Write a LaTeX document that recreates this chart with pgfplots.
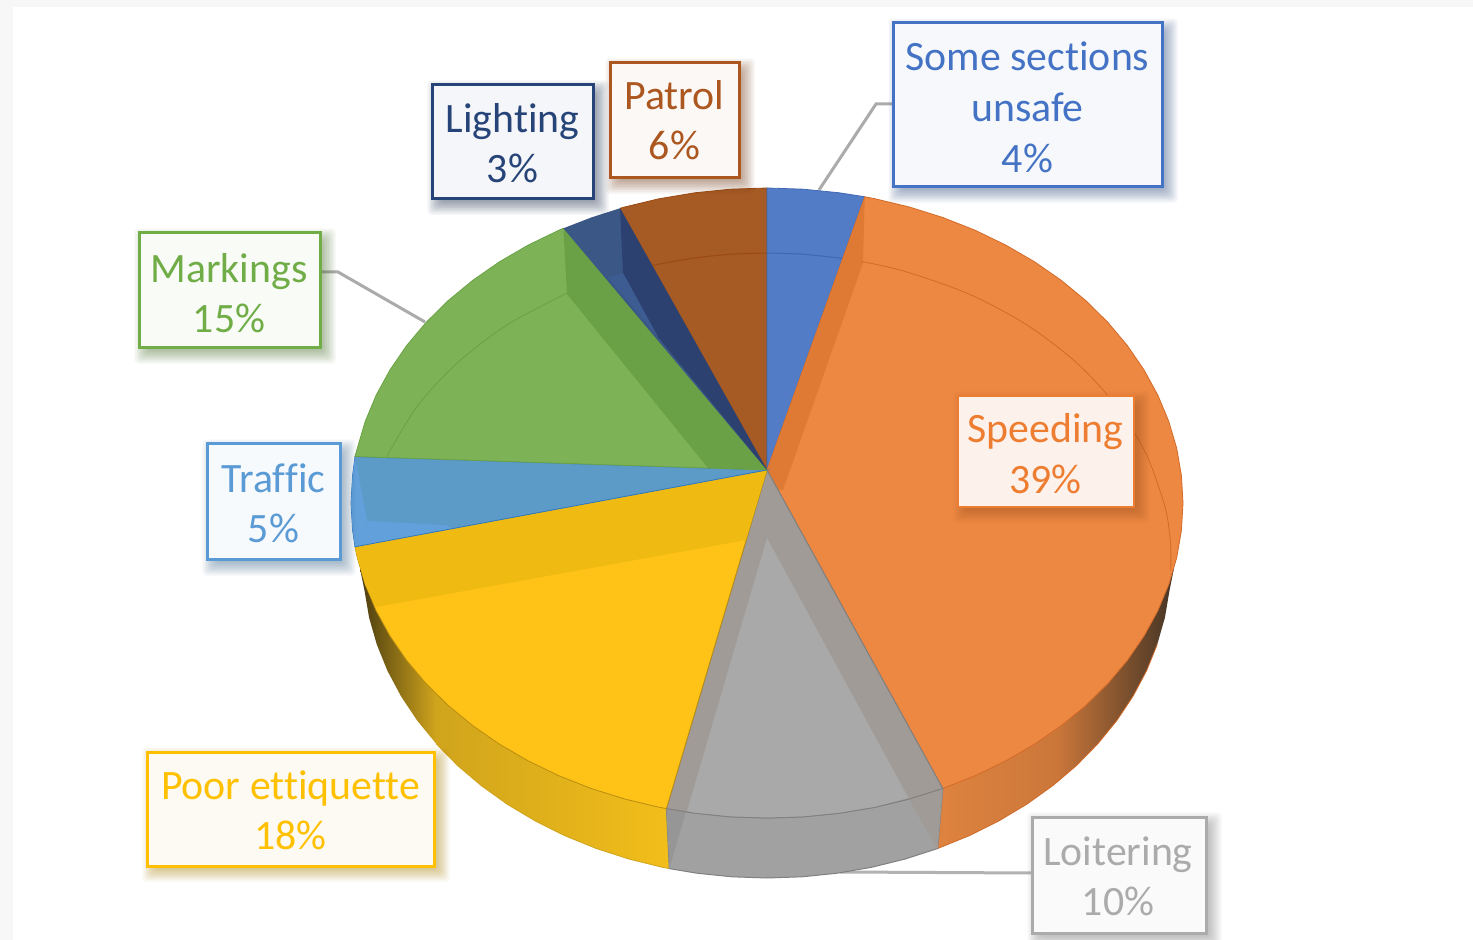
\documentclass[border=0pt]{standalone}
\usepackage{fontspec}
\setmainfont[Ligatures={NoCommon,NoContextual}]{Carlito}
\usepackage{pgfplots}
\pgfplotsset{compat=1.18}

\definecolor{cblue}{HTML}{4472C4}
\definecolor{corange}{HTML}{ED7D31}
\definecolor{cgray}{HTML}{ABABAB}
\definecolor{cyellow}{HTML}{FFC000}
\definecolor{ctraffic}{HTML}{5B9BD5}
\definecolor{cgreen}{HTML}{70AD47}
\definecolor{clight}{HTML}{264478}
\definecolor{cpatrol}{HTML}{AC5620}
% faces and bands
\definecolor{wallA}{HTML}{DE833F}
\definecolor{wallB}{HTML}{CB773A}
\definecolor{wallM}{HTML}{B06A35}
\definecolor{wallC}{HTML}{453525}
\definecolor{wallD}{HTML}{F2BE1A}
\definecolor{wallE}{HTML}{D0A41C}
\definecolor{wallM2}{HTML}{A08218}
\definecolor{wallF}{HTML}{4A3C10}
\definecolor{gband}{HTML}{A09B96}
\definecolor{gtop}{HTML}{A9A9A9}
\definecolor{patrol}{HTML}{A65A24}
\definecolor{patrolE}{HTML}{9A4A12}
\definecolor{blue1}{HTML}{527CC5}
\definecolor{blueE}{HTML}{4068B4}
\definecolor{orange1}{HTML}{ED8843}
\definecolor{orangeE}{HTML}{D26A28}
\definecolor{oband}{HTML}{DF7A35}
\definecolor{yellow1}{HTML}{FFC318}
\definecolor{yellowE}{HTML}{B98C10}
\definecolor{yband}{HTML}{EFBA12}
\definecolor{traffic}{HTML}{5C9AC8}
\definecolor{trafficE}{HTML}{2E78C0}
\definecolor{tlight}{HTML}{62A0DC}
\definecolor{green1}{HTML}{7DB356}
\definecolor{greenE}{HTML}{69A244}
\definecolor{grband}{HTML}{6AA146}
\definecolor{light1}{HTML}{3A5786}
\definecolor{lband}{HTML}{2C4170}
\definecolor{llow}{HTML}{3C5C92}
% label fills
\definecolor{bf}{HTML}{F6F8FB}
\definecolor{pf}{HTML}{FBF8F5}
\definecolor{lf}{HTML}{F5F6F9}
\definecolor{mf}{HTML}{F8FBF6}
\definecolor{tf}{HTML}{F7FAFD}
\definecolor{yf}{HTML}{FCFAF3}
\definecolor{gf}{HTML}{FAFAFA}
\definecolor{sf}{HTML}{FDF1EB}

\tikzset{
  labtext/.style={text=#1, inner sep=0pt, align=center, font=\fontsize{20.9}{25.2}\selectfont},
}
% one layer of a soft shadow: x1,y1,x2,y2,colour,spread
\newcommand\shl[6]{\fill[#5, opacity=0.06, rounded corners=2pt]
  ([xshift=2.8pt-#6pt,yshift=-2.8pt+#6pt]axis cs:#1,#2) rectangle ([xshift=2.8pt+#6pt,yshift=-2.8pt-#6pt]axis cs:#3,#4);}
% box with shadow: x1,y1,x2,y2,colour,fill,line width
\newcommand\labbox[7]{%
  \shl{#1}{#2}{#3}{#4}{#5!65!black}{5}\shl{#1}{#2}{#3}{#4}{#5!65!black}{4}\shl{#1}{#2}{#3}{#4}{#5!65!black}{3.2}%
  \shl{#1}{#2}{#3}{#4}{#5!65!black}{2.4}\shl{#1}{#2}{#3}{#4}{#5!65!black}{1.6}%
  \shl{#1}{#2}{#3}{#4}{#5!65!black}{0.8}\shl{#1}{#2}{#3}{#4}{#5!65!black}{0}%
  \shl{#1}{#2}{#3}{#4}{#5!65!black}{-0.8}\shl{#1}{#2}{#3}{#4}{#5!65!black}{-1.6}%
  \filldraw[draw=#5, fill=#6, line width=#7] (axis cs:#1,#2) rectangle (axis cs:#3,#4);}

\begin{document}
\begin{tikzpicture}
\path[use as bounding box] (0,0) rectangle (736.5pt,470pt);
\clip (0,0) rectangle (736.5pt,470pt);
\begin{axis}[
    at={(0,0)}, anchor=south west,
    scale only axis, width=736.5pt, height=470pt,
    xmin=0, xmax=1473, ymin=0, ymax=940,
    y dir=reverse,
    hide axis,
    no markers,
]
% page background
\addplot[draw=none, fill=black!3] coordinates {(0,0) (1473,0) (1473,940) (0,940)} --cycle;
\addplot[draw=none, fill=white] coordinates {(13,7) (1473,7) (1473,940) (13,940)} --cycle;

% leader lines
\addplot[color=black!33, line width=1.5pt] coordinates {(893,104) (876,104) (819,190)};
\addplot[color=black!33, line width=1.5pt] coordinates {(320,272) (338,272) (425,322)};
\addplot[color=black!30, line width=1.5pt] coordinates {(1032,873) (840,872)};

% side wall, orange
\addplot[draw=none, left color=wallA, right color=wallB] coordinates {
 (942.8,788.5) (937.7,848.5) (969,835.8) (998.7,821) (1026.7,804.3) (1052.7,785.7) (1057.5,782) (1057.5,715)
} --cycle;
\addplot[draw=none, left color=wallB, middle color=wallM, right color=wallC] coordinates {
 (1057,715) (1057,782.4) (1076.5,765.5) (1097.9,743.7) (1116.9,720.5) (1133.1,696.1)
 (1146.6,670.7) (1157.2,644.5) (1164.9,617.7) (1169.5,590.5) (1174,568) (1100,600)
} --cycle;
\addplot[color=orangeE, line width=0.4pt] coordinates {
 (937.7,848.5) (969,835.8) (998.7,821) (1026.7,804.3) (1052.7,785.7) (1076.5,765.5) (1097.9,743.7)
 (1116.9,720.5) (1133.1,696.1) (1146.6,670.7) (1157.2,644.5)
};
% side wall, yellow
\addplot[draw=none, left color=wallF, middle color=wallM2, right color=wallE] coordinates {
 (360,568.5) (364.5,590.5) (369.1,617.7) (376.8,644.5) (387.4,670.7) (400.9,696.1) (417.1,720.5)
 (436.4,744) (436.4,670) (400,600)
} --cycle;
\addplot[draw=none, left color=wallE, right color=wallD] coordinates {
 (436,670) (436,743.7) (457.5,765.5) (481.3,785.7) (507.3,804.3) (535.3,821) (565,835.8)
 (596.3,848.5) (628.8,859) (662.4,867.3) (669.3,868.6) (666.4,808.6)
} --cycle;
\addplot[color=wallE, line width=0.4pt] coordinates {
 (436.1,743.7) (457.5,765.5) (481.3,785.7) (507.3,804.3) (535.3,821) (565,835.8)
 (596.3,848.5) (628.8,859) (662.4,867.3) (669.3,868.6)
};
% side wall, grey
\addplot[draw=black!50, line width=0.5pt, fill=black!37] coordinates {
 (942.8,788.5) (937.7,848.5) (905.2,859) (871.6,867.3) (837.2,873.2) (802.2,876.8) (767,878)
 (731.8,876.8) (696.8,873.2) (669.3,868.6) (666.4,808.6) (694.8,813.2) (730.7,816.8) (767,818)
 (803.3,816.8) (839.2,813.2) (874.7,807.3) (909.3,799)
} --cycle;
\addplot[draw=none, fill=black!41] coordinates {(666.4,808.6) (686,811.5) (669.3,868.6)} --cycle;
\addplot[draw=none, fill=gband] coordinates {(908.5,799) (942.8,788.5) (937.7,848.5)} --cycle;

% top face: Patrol
\addplot[draw=patrolE, line width=0.4pt, fill=patrol] coordinates {
 (767,470) (620,208.3) (624.7,207) (659.3,198.7) (694.8,192.8) (730.7,189.2) (767,188)
} --cycle;
\addplot[color=patrolE, line width=0.5pt, smooth] coordinates {(652.3,265.6) (662.4,263.5) (696.8,257.7) (731.8,254.2) (767,253)};

% Some sections unsafe
\addplot[draw=blueE, line width=0.4pt, fill=blue1] coordinates {
 (767,470) (767,188) (803.3,189.2) (839.2,192.8) (864.8,196.8)
} --cycle;
\addplot[color=blueE, line width=0.5pt, smooth] coordinates {(767,253) (802.2,254.2) (842,258.3)};

% Speeding
\addplot[draw=orangeE, line width=0.4pt, fill=orange1] coordinates {
 (767,470) (864.8,196.8) (874.7,198.7) (909.3,207) (942.8,217.5) (975,230.2) (1005.6,245)
 (1034.4,261.7) (1061.2,280.3) (1085.7,300.5) (1107.8,322.3) (1127.3,345.5) (1144,369.9)
 (1157.9,395.3) (1168.8,421.5) (1176.7,448.3) (1181.4,475.5) (1183,503) (1181.4,530.5)
 (1176.7,557.7) (1168.8,584.5) (1157.9,610.7) (1144,636.1) (1127.3,660.5) (1107.8,683.7)
 (1085.7,705.5) (1061.2,725.7) (1034.4,744.3) (1005.6,761) (975,775.8) (942.8,788.5)
} --cycle;
\addplot[draw=none, fill=oband] coordinates {(767,470) (864.8,196.8) (863,263) (783,490) (775,490)} --cycle;
\addplot[color=orangeE, line width=0.4pt, smooth] coordinates {
 (862.7,261.7) (905.2,271.5) (969,294.1) (1026.7,324.8) (1076.5,362.7) (1116.9,406.5)
 (1146.6,455) (1164.9,506.7) (1169.5,533.2) (1170.8,549.3) (1170.8,570.7)
};

% Loitering
\addplot[draw=black!50, line width=0.5pt, fill=gband] coordinates {
 (767,470) (942.8,788.5) (909.3,799) (874.7,807.3) (839.2,813.2) (803.3,816.8) (767,818)
 (730.7,816.8) (694.8,813.2) (666.4,808.6)
} --cycle;
\addplot[draw=none, fill=gtop] coordinates {
 (767,538) (908.5,798) (874.7,806.8) (839.2,812.7) (803.3,816.3) (767,817.5)
 (730.7,816.3) (694.8,812.7) (687,811)
} --cycle;

% Poor ettiquette
\addplot[draw=yellowE, line width=0.4pt, fill=yellow1] coordinates {
 (767,470) (666.4,808.6) (659.3,807.3) (624.7,799) (591.2,788.5) (559,775.8) (528.4,761)
 (499.6,744.3) (472.8,725.7) (448.3,705.5) (426.2,683.7) (406.7,660.5) (390,636.1) (376.1,610.7)
 (365.2,584.5) (357.3,557.7) (355,546.8)
} --cycle;
\addplot[draw=none, fill=yband] coordinates {
 (767,470) (355,546.8) (357.3,557.7) (365.2,584.5) (376.1,607) (746,540)
} --cycle;

% Traffic
\addplot[draw=trafficE, line width=0.4pt, fill=traffic] coordinates {
 (767,470) (355,546.8) (352.6,530.5) (351,503) (352.6,475.5) (355,456.5)
} --cycle;
\addplot[draw=none, fill=tlight] coordinates {(355,457) (352.6,475.5) (351,503) (352.6,530.5) (355,546) (364,544.5) (367,520)} --cycle;
\addplot[draw=none, fill=tlight] coordinates {(367,521) (364,544.5) (452,528) (445,525)} --cycle;

% Markings
\addplot[draw=greenE, line width=0.4pt, fill=green1] coordinates {
 (767,470) (355,456.5) (357.3,448.3) (365.2,421.5) (376.1,395.3) (390,369.9) (406.7,345.5)
 (426.2,322.3) (448.3,300.5) (472.8,280.3) (499.6,261.7) (528.4,245) (559,230.2) (563.4,228.3)
} --cycle;
\addplot[draw=none, fill=grband] coordinates {(767,470) (563.4,228.3) (567,294) (708,468)} --cycle;
\addplot[color=greenE, line width=0.4pt, smooth] coordinates {
 (386.5,457) (417.1,406.5) (457.5,362.7) (507.3,324.8) (565,294.1) (607,273)
};

% Lighting
\addplot[draw=none, fill=light1] coordinates {
 (767,470) (563.4,228.3) (591.2,217.5) (620,208.3)
} --cycle;
\addplot[draw=none, fill=lband] coordinates {(767,470) (620,208.3) (623,273) (658,337)} --cycle;
\addplot[draw=none, fill=llow] coordinates {(608,278) (623,273) (658,337)} --cycle;

% labels
\labbox{893}{23}{1162}{187}{cblue}{bf}{1.5pt}
\node[labtext=cblue] at (axis cs:1027.5,107.5) {Some sections\\[0.3pt]unsafe\\[0.5pt]4\%};
\labbox{610}{63}{739}{178}{cpatrol}{pf}{1.5pt}
\node[labtext=cpatrol] at (axis cs:674.5,120) {Patrol\\6\%};
\labbox{432}{85}{593}{199}{clight}{lf}{1.5pt}
\node[labtext=clight] at (axis cs:512.5,143) {Lighting\\3\%};
\labbox{139}{233}{320}{348}{cgreen}{mf}{1.5pt}
\node[labtext=cgreen] at (axis cs:229,293) {Markings\\15\%};
\labbox{207}{444}{340}{560}{ctraffic}{tf}{1.5pt}
\node[labtext=ctraffic] at (axis cs:273.5,503) {Traffic\\5\%};
\labbox{147}{752}{434}{866}{cyellow}{yf}{1.5pt}
\node[labtext=cyellow] at (axis cs:290.5,810) {Poor ettiquette\\18\%};
\labbox{1032}{817}{1206}{933}{cgray}{gf}{1.5pt}
\node[labtext=cgray] at (axis cs:1118,876) {Loitering\\10\%};
\labbox{958}{396}{1134}{507}{corange}{sf}{1pt}
\node[labtext=corange] at (axis cs:1045.5,453.5) {Speeding\\39\%};
\end{axis}
\end{tikzpicture}
\end{document}
